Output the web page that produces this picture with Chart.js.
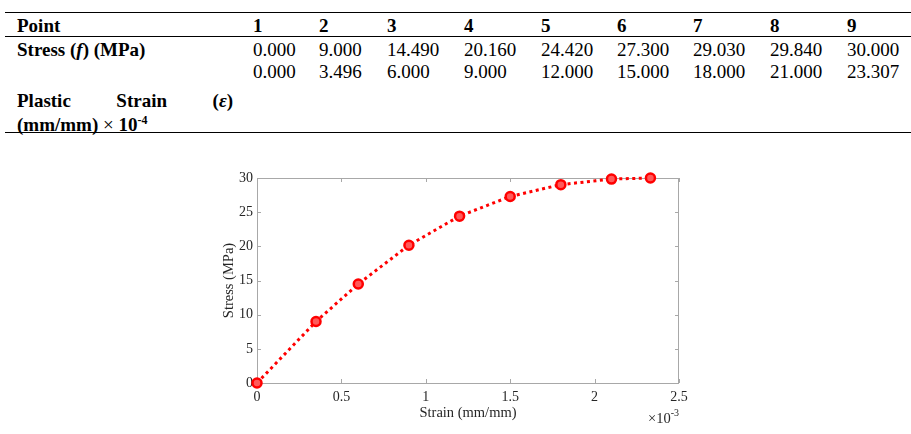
<!DOCTYPE html>
<html>
<head>
<meta charset="utf-8">
<script src="https://cdn.jsdelivr.net/npm/chart.js@4/dist/chart.umd.min.js"></script>
<style>
  html, body { margin: 0; padding: 0; background: #fff; }
  body { width: 911px; height: 434px; position: relative; overflow: hidden;
         font-family: "Liberation Serif", "Times New Roman", serif; color: #000; }
  .rule { position: absolute; left: 5px; width: 906px; height: 1px; background: #000; }
  .cell { position: absolute; font-size: 19px; line-height: 19px; white-space: nowrap; }
  .b { font-weight: bold; }
  #lbl { position: absolute; left: 17px; top: 89px; width: 216px; font-size: 19px; line-height: 23.5px;
         font-weight: bold; text-align: justify; text-align-last: left; }
  #box { position: absolute; left: 200px; top: 160px; width: 520px; height: 270px; }
</style>
</head>
<body>
<div class="rule" style="top:12px"></div>
<div class="rule" style="top:36px"></div>
<div class="rule" style="top:132px"></div>
<div id="tbl"></div>
<div id="lbl">Plastic Strain (<i>ε</i>) (mm/mm) <span style="font-weight:normal">×</span> 10<sup style="font-size:12px;vertical-align:7px;line-height:0">-4</sup></div>
<div id="box"><canvas id="c"></canvas></div>
<script>
;(function(){
    // table / chart values
    var points = [1, 2, 3, 4, 5, 6, 7, 8, 9];
    var stress = [0.000, 9.000, 14.490, 20.160, 24.420, 27.300, 29.030, 29.840, 30.000];   // MPa
    var plasticStrain = [0.000, 3.496, 6.000, 9.000, 12.000, 15.000, 18.000, 21.000, 23.307]; // mm/mm x 1e-4
    var xTicks = [0, 0.5, 1, 1.5, 2, 2.5];        // x 1e-3
    var yTicks = [0, 5, 10, 15, 20, 25, 30];

    // table
    var colX = [253, 319, 387, 464, 541, 617, 693, 770, 847];
    var tbl = document.getElementById('tbl');
    function cell(txt, x, y, bold){
        var d = document.createElement('div');
        d.className = 'cell' + (bold ? ' b' : '');
        d.style.left = x + 'px';
        d.style.top = y + 'px';
        d.innerHTML = txt;
        tbl.appendChild(d);
    }
    cell('Point', 17, 15.6, true);
    cell('Stress (<i>f</i>) (MPa)', 17, 40, true);
    points.forEach(function(p, i){
        cell(String(p), colX[i], 15.6, true);
        cell(stress[i].toFixed(3), colX[i], 40, false);
        cell(plasticStrain[i].toFixed(3), colX[i], 61.6, false);
    });

    // chart
    var data = plasticStrain.map(function(s, i){
        return {x: s / 10, y: stress[i]};
    });
    var axisColor = '#a8a8a8';
    var textColor = '#262626';

    var boxTicks = {
        id: 'boxTicks',
        beforeDatasetsDraw: function(chart){
            var ctx = chart.ctx, a = chart.chartArea;
            var xs = chart.scales.x, ys = chart.scales.y;
            ctx.save();
            ctx.strokeStyle = axisColor;
            ctx.lineWidth = 1;
            ctx.strokeRect(a.left + 0.5, a.top + 0.5, a.right - a.left - 1, a.bottom - a.top);
            ctx.beginPath();
            xTicks.forEach(function(v){
                var px = Math.round(xs.getPixelForValue(v)) + 0.5;
                ctx.moveTo(px, a.bottom); ctx.lineTo(px, a.bottom - 4);
                ctx.moveTo(px, a.top); ctx.lineTo(px, a.top + 4);
            });
            yTicks.forEach(function(v){
                var py = Math.round(ys.getPixelForValue(v)) + 0.5;
                ctx.moveTo(a.left, py); ctx.lineTo(a.left + 4, py);
                ctx.moveTo(a.right, py); ctx.lineTo(a.right - 4, py);
            });
            ctx.stroke();
            ctx.restore();
        },
        afterDraw: function(chart){
            // exponent label
            var ctx = chart.ctx, a = chart.chartArea;
            ctx.save();
            ctx.fillStyle = textColor;
            ctx.textBaseline = 'alphabetic';
            ctx.textAlign = 'right';
            ctx.font = '10px "Liberation Serif"';
            ctx.fillText('-3', a.right, 256);
            var w = ctx.measureText('-3').width;
            ctx.font = '14.5px "Liberation Serif"';
            ctx.fillText('×10', a.right - w, 263);
            ctx.restore();
        }
    };

    new Chart(document.getElementById('c'), {
        type: 'scatter',
        data: {
            datasets: [{
                data: data,
                showLine: true,
                borderColor: '#ff0000',
                borderWidth: 3,
                borderDash: [3, 3.5],
                borderCapStyle: 'butt',
                pointRadius: 4.5,
                pointBorderWidth: 2.5,
                pointBorderColor: '#ff0000',
                pointBackgroundColor: '#ff5a5a',
                clip: false
            }]
        },
        options: {
            responsive: true,
            maintainAspectRatio: false,
            animation: false,
            layout: { padding: { top: 18, right: 41, left: 0, bottom: 0 } },
            plugins: { legend: { display: false }, tooltip: { enabled: false } },
            scales: {
                x: {
                    type: 'linear', min: 0, max: 2.5,
                    afterFit: function(s){ s.height = 47; },
                    afterBuildTicks: function(s){ s.ticks = xTicks.map(function(v){ return {value: v}; }); },
                    grid: { display: false, drawTicks: false },
                    border: { display: false },
                    ticks: { color: textColor, padding: 6, maxRotation: 0,
                             font: { family: 'Liberation Serif', size: 14 },
                             callback: function(v){ return String(v); } },
                    title: { display: true, text: 'Strain (mm/mm)', color: textColor,
                             font: { family: 'Liberation Serif', size: 14.5 },
                             padding: { top: 0, bottom: 8 } }
                },
                y: {
                    type: 'linear', min: 0, max: 30,
                    afterFit: function(s){ s.width = 57; },
                    afterBuildTicks: function(s){ s.ticks = yTicks.map(function(v){ return {value: v}; }); },
                    grid: { display: false, drawTicks: false },
                    border: { display: false },
                    ticks: { color: textColor, padding: 4,
                             font: { family: 'Liberation Serif', size: 14 } },
                    title: { display: true, text: 'Stress (MPa)', color: textColor,
                             font: { family: 'Liberation Serif', size: 14.5 },
                             padding: { top: 20, bottom: 0 } }
                }
            }
        },
        plugins: [boxTicks]
    });
})();
</script>
</body>
</html>
